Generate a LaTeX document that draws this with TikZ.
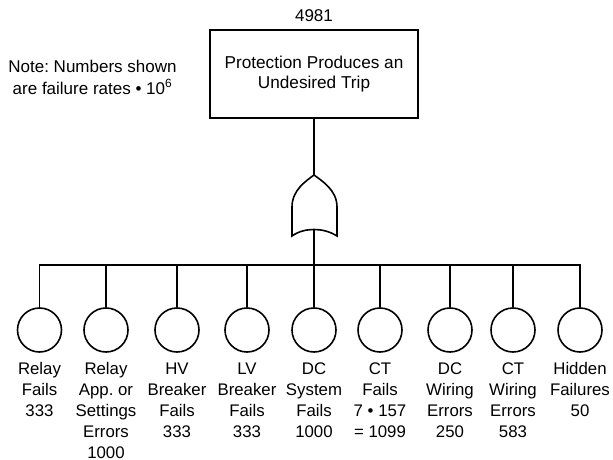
\documentclass[tikz,border=0pt]{standalone}
\usepackage{fontspec}
\setmainfont{Liberation Sans}
\frenchspacing
\begin{document}
\begin{tikzpicture}[x=1pt,y=-1pt,line width=1.6pt,
  evt/.style={draw,circle,minimum size=44pt,inner sep=0pt},
  lbl/.style={anchor=north,align=center,inner sep=0pt,font=\fontsize{16.8}{21}\selectfont},
  topbox/.style={draw,minimum width=208pt,minimum height=88pt,inner sep=0pt,align=center,font=\fontsize{17.2}{20}\selectfont},
  txt/.style={inner sep=0pt,font=\fontsize{17}{21.6}\selectfont,align=center}]
\useasboundingbox (0,0) rectangle (613,460);
% top event
\node[topbox] (top) at (314,74) {Protection Produces an\\Undesired Trip};
\node[txt,anchor=base] (rate) at (314,21.7) {4981};
\node[txt,anchor=north] (note) at (92.5,59.3) {Note: Numbers shown\\are failure rates \textbullet{} 10\textsuperscript{6}};
% OR gate
\coordinate (gin) at (314,175);
\coordinate (gout) at (314,229.5);
\draw (292,236) -- (292,207) .. controls (292,190) and (306,181) .. (gin)
  .. controls (322,181) and (337,190) .. (337,207) -- (337,236)
  .. controls (329,231) and (321,229.5) .. (gout)
  .. controls (307,229.5) and (299,231) .. (292,236) -- cycle;
\draw (top.south) -- (gin);
\coordinate (bus) at (314,265);
\draw (gout) -- (bus);
% basic events
\foreach \i/\x in {1/39.5,2/106,3/177,4/247,5/314,6/380,7/450,8/513,9/580}{
  \node[evt] (c\i) at (\x,330) {};
}
\draw (c1.north) -- (c1.north |- bus) -- (c9.north |- bus) -- (c9.north);
\foreach \i in {2,...,8}{ \draw (c\i.north) -- (c\i.north |- bus); }
\node[lbl] (l1) at (39.5,362) {Relay\\Fails\\333};
\node[lbl] (l2) at (106,362) {Relay\\App. or\\Settings\\Errors\\1000};
\node[lbl] (l3) at (177,362) {HV\\Breaker\\Fails\\333};
\node[lbl] (l4) at (247,362) {LV\\Breaker\\Fails\\333};
\node[lbl] (l5) at (314,362) {DC\\System\\Fails\\1000};
\node[lbl] (l6) at (380,362) {CT\\Fails\\7 \textbullet{} 157\\= 1099};
\node[lbl] (l7) at (450,362) {DC\\Wiring\\Errors\\250};
\node[lbl] (l8) at (513,362) {CT\\Wiring\\Errors\\583};
\node[lbl] (l9) at (580,362) {Hidden\\Failures\\50};
\end{tikzpicture}
\end{document}
